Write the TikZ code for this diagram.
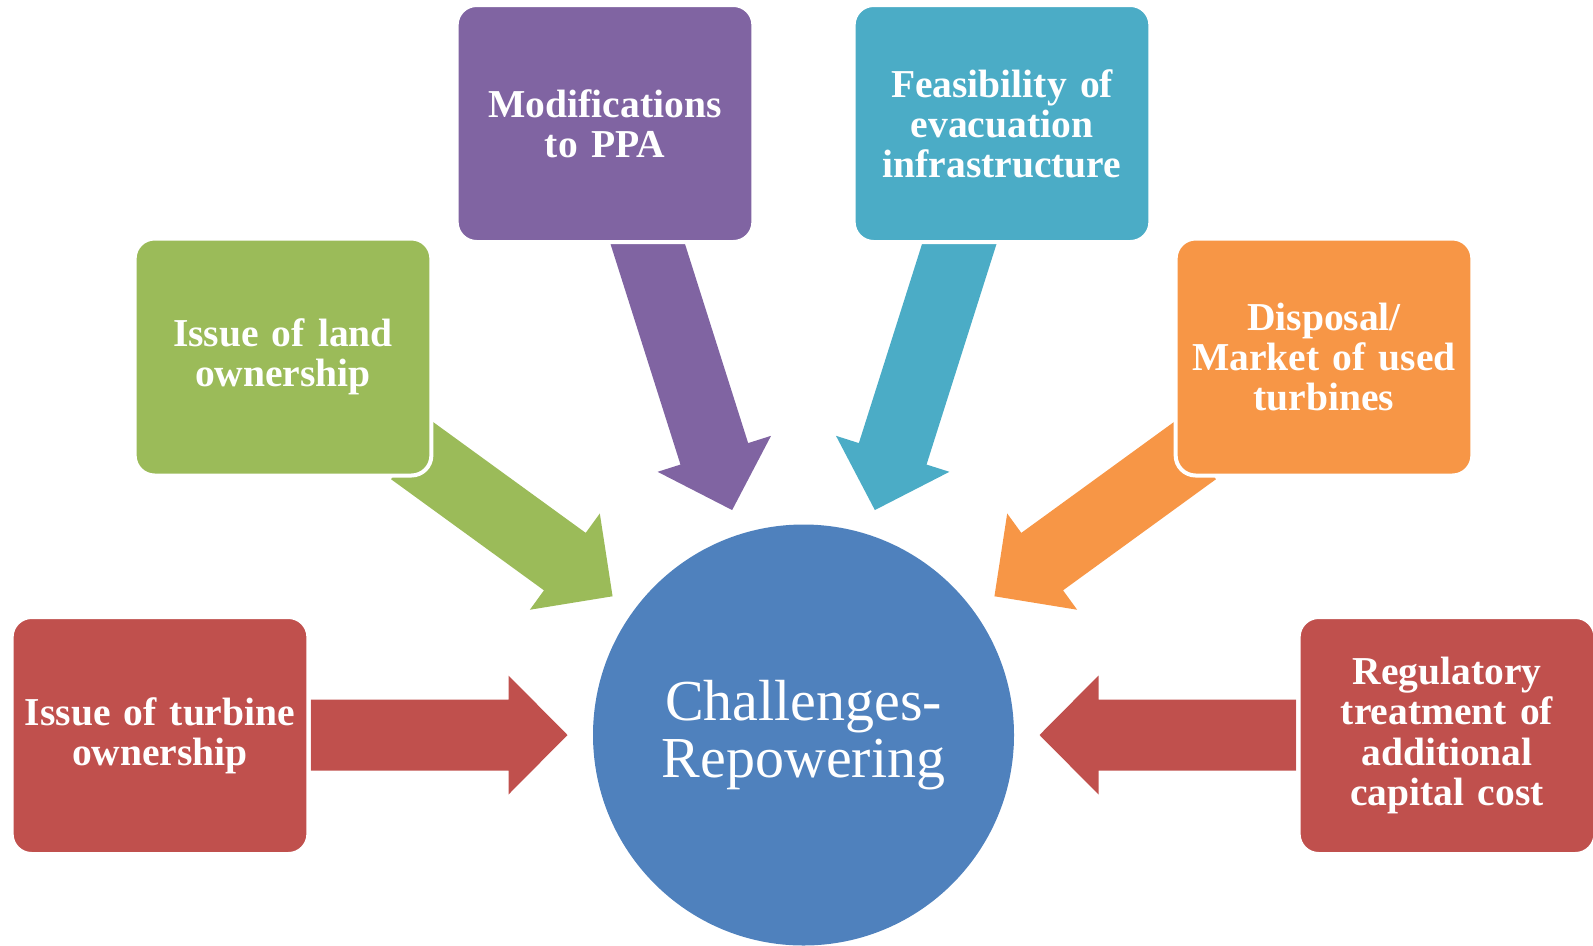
\documentclass[tikz,border=0pt]{standalone}
\usepackage{fontspec}
\setmainfont{Liberation Serif}
\usepackage{tikz}
\usetikzlibrary{calc}

\definecolor{rosso}{HTML}{C0504D}
\definecolor{verde}{HTML}{9BBB59}
\definecolor{viola}{HTML}{8064A2}
\definecolor{azzurro}{HTML}{4BACC6}
\definecolor{arancio}{HTML}{F79646}
\definecolor{blu}{HTML}{4F81BD}

\tikzset{
	riquadro/.style={rectangle, rounded corners=4mm, draw=white, line width=0.8mm,
		minimum width=59.2mm, minimum height=47.4mm, text width=57mm, align=center,
		text=white, font=\fontsize{22.5}{22.8}\selectfont\bfseries},
	cerchio/.style={circle, fill=blu, minimum size=84.2mm, inner sep=0pt,
		text=white, align=center, font=\fontsize{33}{32.5}\selectfont}
}

% freccia piena: colore, coda, punta
\newcommand{\freccia}[3]{%
	\coordinate (h) at ($(#3)!11.8mm!(#2)$);
	\fill[#1] ($(#2)!7.1mm!90:(#3)$) -- ($(h)!7.1mm!-90:(#2)$) -- ($(h)!11.9mm!-90:(#2)$)
		-- (#3) -- ($(h)!11.9mm!90:(#2)$) -- ($(h)!7.1mm!90:(#2)$) -- ($(#2)!7.1mm!-90:(#3)$) -- cycle;}

\begin{document}
\begin{tikzpicture}[x=0.2mm,y=-0.2mm]
		\useasboundingbox (0,0) rectangle (1593,945);
		\def\rp{47.2mm}% raggio punte
		\node[cerchio] (ch) at (803.5,735) {Challenges-\\Repowering};
		% punte e code
		\foreach \nome/\ang/\rcoda in {a/180/98.5mm, b/144/96.8mm, c/107.6/108mm, d/72.4/108mm, e/36/96.8mm, f/0/98.5mm}{
			\coordinate (p\nome) at ($(ch.center)+(\ang:\rp)$);
			\coordinate (c\nome) at ($(ch.center)+(\ang:\rcoda)$);
		}
		% frecce
		\freccia{rosso}{ca}{pa}
		\freccia{verde}{cb}{pb}
		\freccia{viola}{cc}{pc}
		\freccia{azzurro}{cd}{pd}
		\freccia{arancio}{ce}{pe}
		\freccia{rosso}{cf}{pf}
		% riquadri
		\node[riquadro, fill=rosso] (turbina) at (160,735.5) {Issue of turbine\\ownership};
		\node[riquadro, fill=verde] (terreno) at (283,357) {Issue of land\\ownership};
		\node[riquadro, fill=viola] (ppa) at (605,123.5) {Modifications\\to PPA};
		\node[riquadro, fill=azzurro] (evac) at (1002,123.5) {Feasibility of\\evacuation\\infrastructure};
		\node[riquadro, fill=arancio] (smalt) at (1324,357) {Disposal/\\Market of used\\turbines};
		\node[riquadro, fill=rosso] (regol) at (1447,735.5) {Regulatory\\treatment of\\additional\\capital cost};
	\end{tikzpicture}
\end{document}
